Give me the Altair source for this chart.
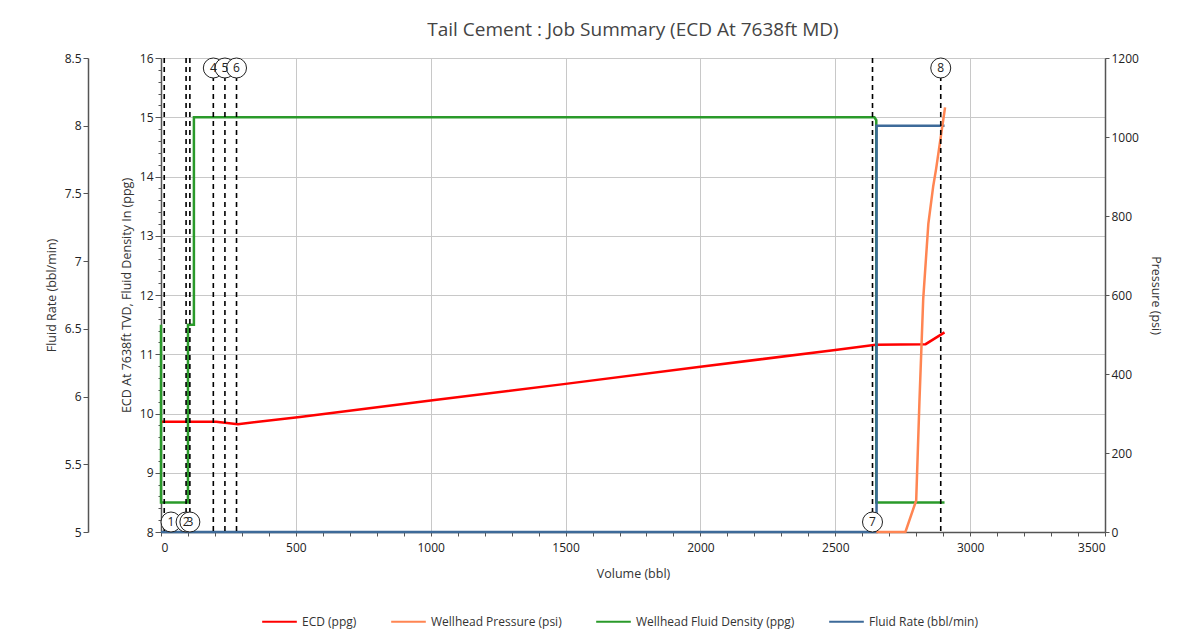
import altair as alt
import pandas as pd

# ---------------- data ----------------
SERIES = ["ECD (ppg)", "Wellhead Pressure (psi)", "Wellhead Fluid Density (ppg)", "Fluid Rate (bbl/min)"]
COLORS = ["#ff0000", "#ff8552", "#2a9a2a", "#3d6a99"]

ECD_VOL = [0, 205, 285, 515, 1000, 1500, 2000, 2500, 2650, 2835, 2905]
ECD_VAL = [9.86, 9.86, 9.82, 9.94, 10.22, 10.50, 10.79, 11.07, 11.16, 11.17, 11.37]

DENS_VOL = [0, 0, 100, 100, 122, 122, 2645, 2652, 2652, 2905]
DENS_VAL = [11.5, 8.5, 8.5, 11.5, 11.5, 15.0, 15.0, 14.95, 8.5, 8.5]

RATE_VOL = [0, 2653, 2653, 2905]
RATE_VAL = [0, 0, 8, 8]

PRES_VOL = [2652, 2760, 2800, 2812, 2826, 2845, 2863, 2874, 2907]
PRES_VAL = [0, 0, 80, 330, 590, 780, 875, 920, 1075]

EVENT_VOL = [12, 93, 107, 194, 237, 280, 2638, 2891]
EVENT_LABEL = ["1", "2", "3", "4", "5", "6", "7", "8"]
EVENT_SIDE = ["bottom", "bottom", "bottom", "top", "top", "top", "bottom", "top"]

# ---------------- tables ----------------
ppg_df = pd.concat([
    pd.DataFrame({"vol": ECD_VOL, "val": ECD_VAL, "series": SERIES[0], "idx": range(len(ECD_VOL))}),
    pd.DataFrame({"vol": DENS_VOL, "val": DENS_VAL, "series": SERIES[2], "idx": range(len(DENS_VOL))}),
])
rate_df = pd.DataFrame({"vol": RATE_VOL, "val": RATE_VAL, "series": SERIES[3], "idx": range(len(RATE_VOL))})
pres_df = pd.DataFrame({"vol": PRES_VOL, "val": PRES_VAL, "series": SERIES[1], "idx": range(len(PRES_VOL))})
ev_df = pd.DataFrame({"vol": EVENT_VOL, "label": EVENT_LABEL, "side": EVENT_SIDE})

FONT = "Open Sans"
W, H = 944, 474

x_axis = alt.Axis(
    values=list(range(0, 3501, 100)),
    labelExpr="datum.value % 500 === 0 ? datum.label : ''",
    format="d",
    gridOpacity={"condition": {"test": "datum.value % 500 === 0", "value": 1}, "value": 0},
    gridColor="#c8c8c8",
    tickSize=4,
    labelPadding=6,
    titlePadding=14,
)
X = alt.X("vol:Q", scale=alt.Scale(domain=[0, 3500], nice=False, zero=False), axis=x_axis, title="Volume (bbl)")

color = alt.Color(
    "series:N",
    scale=alt.Scale(domain=SERIES, range=COLORS),
    legend=alt.Legend(
        orient="none", direction="horizontal", legendX=100, legendY=545,
        title=None, symbolType="stroke", symbolSize=1200, symbolStrokeWidth=2,
        labelFontSize=12, labelColor="#333", columnPadding=30, labelFont=FONT,
    ),
)

ppg_values = [round(8 + 0.2 * i, 1) for i in range(41)]
ppg_axis = alt.Axis(
    orient="left",
    values=ppg_values,
    labelExpr="abs(datum.value - round(datum.value)) < 0.001 ? format(datum.value, 'd') : ''",
    tickSize={"condition": {"test": "abs(datum.value - round(datum.value)) < 0.001", "value": 6}, "value": 3},
    gridOpacity={"condition": {"test": "abs(datum.value - round(datum.value)) < 0.001", "value": 1}, "value": 0},
    gridColor="#c8c8c8",
    grid=True,
    titlePadding=6,
)
ppg = alt.Chart(ppg_df).mark_line(strokeWidth=2.5).encode(
    x=X,
    y=alt.Y("val:Q", scale=alt.Scale(domain=[8, 16], nice=False, zero=False), axis=ppg_axis,
            title="ECD At 7638ft TVD, Fluid Density In (ppg)"),
    color=color,
    order="idx:Q",
)

rate = alt.Chart(rate_df).mark_line(strokeWidth=2.5).encode(
    x=X,
    y=alt.Y("val:Q", scale=alt.Scale(domain=[5, 8.5], nice=False, zero=False, clamp=True),
            axis=alt.Axis(orient="left", offset=73, values=[5, 5.5, 6, 6.5, 7, 7.5, 8, 8.5],
                          format="~g", grid=False, tickSize=5, titlePadding=6),
            title="Fluid Rate (bbl/min)"),
    color=color,
    order="idx:Q",
)

pres = alt.Chart(pres_df).mark_line(strokeWidth=2.5).encode(
    x=X,
    y=alt.Y("val:Q", scale=alt.Scale(domain=[0, 1200], nice=False),
            axis=alt.Axis(orient="right", values=list(range(0, 1201, 200)), format="d", grid=False,
                          tickSize=4, titlePadding=10),
            title="Pressure (psi)"),
    color=color,
    order="idx:Q",
)

rules = alt.Chart(ev_df).mark_rule(color="black", strokeWidth=1.6, strokeDash=[5, 4]).encode(x=X)

circ_x = alt.X("xl:Q", scale=alt.Scale(domain=[0, 3500], nice=False, zero=False), axis=x_axis, title="Volume (bbl)")

top_c = alt.Chart(ev_df).transform_filter("datum.side === 'top'").transform_calculate(
    xl="max(datum.vol, 37)")
bot_c = alt.Chart(ev_df).transform_filter("datum.side === 'bottom'").transform_calculate(
    xl="max(datum.vol, 37)")

circles_top = top_c.mark_point(shape="circle", size=400, filled=True, fill="white",
                               stroke="#222", strokeWidth=1, opacity=1).encode(x=circ_x, y=alt.value(10))
text_top = top_c.mark_text(fontSize=12, font=FONT, color="#222", baseline="middle").encode(
    x=circ_x, y=alt.value(10), text="label:N")
circles_bot = bot_c.mark_point(shape="circle", size=400, filled=True, fill="white",
                               stroke="#222", strokeWidth=1, opacity=1).encode(x=circ_x, y=alt.value(464))
text_bot = bot_c.mark_text(fontSize=12, font=FONT, color="#222", baseline="middle").encode(
    x=circ_x, y=alt.value(464), text="label:N")

chart = alt.layer(
    ppg, rate, pres, rules, circles_top, text_top, circles_bot, text_bot
).resolve_scale(y="independent").properties(
    width=W, height=H,
    autosize="none",
    padding={"left": 153, "top": 50, "right": 80, "bottom": 100},
    title=alt.TitleParams("Tail Cement : Job Summary (ECD At 7638ft MD)", fontSize=19, font=FONT,
                          fontWeight="normal", color="#444", anchor="middle", offset=12),
).configure_axis(
    labelFont=FONT, titleFont=FONT, labelFontSize=12, titleFontSize=12.5,
    labelColor="#222", titleColor="#333", titleFontWeight="normal",
    domainColor="#555", tickColor="#555", domainWidth=1.5,
).configure_view(stroke=None).configure_legend(labelFont=FONT)

chart.save("out.html", embed_options={"renderer": "svg", "actions": False})
